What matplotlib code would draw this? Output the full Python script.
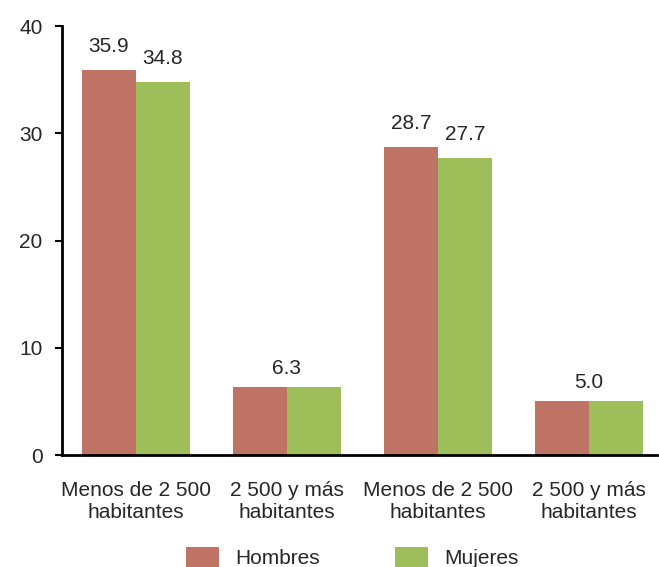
import numpy as np
import matplotlib.pyplot as plt

plt.rcParams['font.family'] = ['Liberation Sans', 'DejaVu Sans']

categories = ["Menos de 2 500\nhabitantes", "2 500 y más\nhabitantes",
              "Menos de 2 500\nhabitantes", "2 500 y más\nhabitantes"]
hombres = [35.9, 6.3, 28.7, 5.0]
mujeres = [34.8, 6.3, 27.7, 5.0]

col_h = "#BE7365"
col_m = "#9DBE58"
txt = "#262626"
fs = 15

fig = plt.figure(figsize=(6.59, 5.67), dpi=100)
ax = fig.add_axes([0.094, 0.1975, 0.903, 0.7565])

x = np.arange(len(categories))
w = 0.358
bh = ax.bar(x - w / 2, hombres, w, color=col_h, label="Hombres")
bm = ax.bar(x + w / 2, mujeres, w, color=col_m, label="Mujeres")

# value labels; a single centred label when both values are equal
for i in range(len(x)):
    if hombres[i] == mujeres[i]:
        ax.annotate(f"{hombres[i]:.1f}", (x[i], hombres[i]), xytext=(0, 7),
                    textcoords="offset points", ha="center", va="bottom",
                    fontsize=fs, color=txt)
    else:
        ax.annotate(f"{hombres[i]:.1f}", (x[i] - w / 2, hombres[i]), xytext=(0, 10),
                    textcoords="offset points", ha="center", va="bottom",
                    fontsize=fs, color=txt)
        ax.annotate(f"{mujeres[i]:.1f}", (x[i] + w / 2, mujeres[i]), xytext=(0, 10),
                    textcoords="offset points", ha="center", va="bottom",
                    fontsize=fs, color=txt)

ax.set_xlim(-0.49, 3.45)
ax.set_ylim(0, 40)
ax.set_yticks([0, 10, 20, 30, 40])
ax.set_xticks(x)
ax.set_xticklabels(categories, fontsize=fs, color=txt, linespacing=1.2)
ax.tick_params(axis="x", length=0, pad=19)
ax.tick_params(axis="y", length=5, width=1.5, pad=9, labelsize=fs, labelcolor=txt)

for s in ["top", "right"]:
    ax.spines[s].set_visible(False)
ax.spines["left"].set_linewidth(2)
ax.spines["bottom"].set_linewidth(2)

fig.legend(handles=[bh, bm], loc="upper left", bbox_to_anchor=(0.282, 0.035),
           ncol=2, frameon=False, fontsize=fs, handlelength=1.6,
           handleheight=1.1, columnspacing=3.6, handletextpad=0.77,
           borderpad=0, borderaxespad=0, labelcolor=txt)

fig.savefig("out.png", dpi=100)
